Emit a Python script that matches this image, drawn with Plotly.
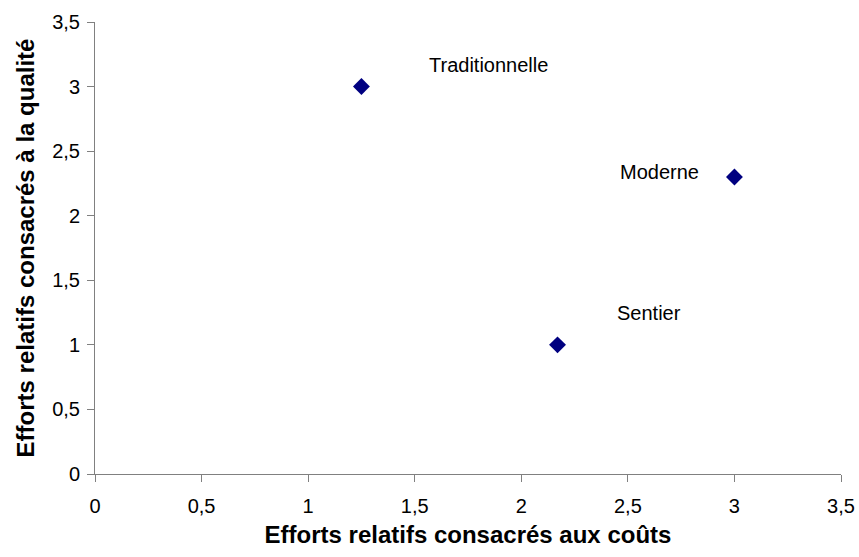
import plotly.graph_objects as go

# data
names = ["Traditionnelle", "Moderne", "Sentier"]
cost_effort = [1.25, 3.0, 2.17]
quality_effort = [3.0, 2.3, 1.0]
label_x = [1.845, 2.65, 2.60]
label_y = [3.17, 2.34, 1.25]
tick_vals = [0, 0.5, 1, 1.5, 2, 2.5, 3, 3.5]
tick_text = ["0", "0,5", "1", "1,5", "2", "2,5", "3", "3,5"]

FONT = "Liberation Sans, Arial, sans-serif"

fig = go.Figure()
fig.add_trace(go.Scatter(
    x=cost_effort,
    y=quality_effort,
    mode="markers",
    marker=dict(symbol="diamond", size=13, color="#000080"),
    hoverinfo="text",
    text=names,
))

for name, lx, ly in zip(names, label_x, label_y):
    fig.add_annotation(
        x=lx, y=ly, text=name, showarrow=False,
        font=dict(family=FONT, size=20, color="black"),
    )

axis_common = dict(
    range=[0, 3.5],
    tickvals=tick_vals,
    ticktext=tick_text,
    showgrid=False,
    zeroline=False,
    showline=True,
    linecolor="#808080",
    linewidth=1,
    ticks="outside",
    ticklen=7,
    tickcolor="#808080",
    tickfont=dict(family=FONT, size=20, color="black"),
    automargin=False,
)

fig.update_layout(
    width=859,
    height=557,
    plot_bgcolor="white",
    paper_bgcolor="white",
    showlegend=False,
    margin=dict(l=95, r=18, t=22, b=83),
    xaxis=dict(
        **axis_common,
        ticklabelstandoff=7,
        title=dict(
            text="<b>Efforts relatifs consacrés aux coûts</b>",
            font=dict(family=FONT, size=24, color="black"),
            standoff=10,
        ),
    ),
    yaxis=dict(
        **axis_common,
        ticklabelstandoff=3,
        title=dict(
            text="<b>Efforts relatifs consacrés à la qualité</b>",
            font=dict(family=FONT, size=24, color="black"),
            standoff=10,
        ),
    ),
)

# drop the default 8px body margin so the figure fills the window exactly
fig.write_html(
    "out.html",
    config={"displayModeBar": False},
    post_script="document.body.style.margin='0';document.body.style.overflow='hidden';",
)
